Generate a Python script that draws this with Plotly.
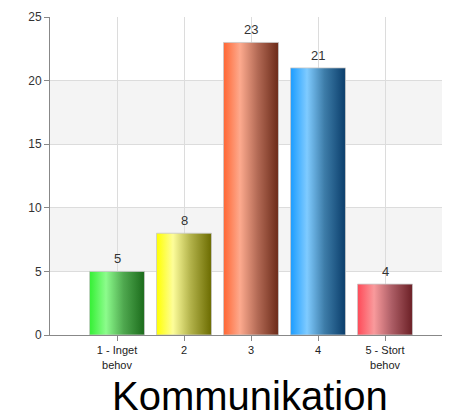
import plotly.graph_objects as go

categories = ["1 - Inget<br>behov", "2", "3", "4", "5 - Stort<br>behov"]
positions = [1, 2, 3, 4, 5]
values = [5, 8, 23, 21, 4]
title = "Kommunikation"
y_ticks = [0, 5, 10, 15, 20, 25]

gradients = [
    ["#33f033", "#8cfc8c", "#4fa84f", "#1b6b1b"],
    ["#ffff00", "#fdfd9a", "#b2b24a", "#6b6b00"],
    ["#ff6633", "#fdaa8e", "#b36a55", "#6b2a18"],
    ["#1a9cff", "#7fcbff", "#3d7ca8", "#0a3d6b"],
    ["#ff4a58", "#f99a9c", "#ad5e66", "#6b1f25"],
]

bar_w = 0.82

fig = go.Figure()
for pos, val, cols in zip(positions, values, gradients):
    x0, x1 = pos - bar_w / 2, pos + bar_w / 2
    fig.add_trace(go.Scatter(
        x=[x0, x1, x1, x0, x0], y=[0, 0, val, val, 0],
        mode="lines", fill="toself",
        line=dict(color="rgba(200,200,200,0.8)", width=1),
        fillgradient=dict(type="horizontal",
                          colorscale=[[0, cols[0]], [0.3, cols[1]], [0.62, cols[2]], [1, cols[3]]]),
        hoverinfo="skip", showlegend=False,
    ))

annotations = [
    dict(x=p, y=v, xref="x", yref="y", text=str(v), showarrow=False,
         yanchor="bottom", yshift=3,
         font=dict(family="Arial", size=13, color="#333333"))
    for p, v in zip(positions, values)
]

for lo, hi in [(5, 10), (15, 20)]:
    fig.add_shape(type="rect", xref="paper", x0=0, x1=1, yref="y", y0=lo, y1=hi,
                  fillcolor="#f4f4f4", line=dict(width=0), layer="below")

annotations.append(dict(text=title, xref="paper", yref="paper", x=0.5, y=0,
                        yshift=-61, showarrow=False, yanchor="middle",
                        font=dict(family="Arial", size=40, color="#000000")))

fig.update_layout(
    width=442, height=409,
    margin=dict(l=42, r=0, t=9, b=82),
    plot_bgcolor="white", paper_bgcolor="white",
    font=dict(family="Arial", color="#333333"),
    xaxis=dict(range=[0, 5.97], tickvals=positions, ticktext=categories,
               showgrid=True, gridcolor="#dcdcdc", zeroline=False,
               showline=True, linecolor="#888888", linewidth=1,
               ticks="outside", ticklen=5, tickcolor="#888888",
               tickfont=dict(family="Arial", size=11, color="#222222")),
    yaxis=dict(range=[0, 25], tickvals=y_ticks,
               showgrid=True, gridcolor="#dcdcdc", zeroline=False,
               showline=True, linecolor="#888888", linewidth=1,
               ticks="outside", ticklen=5, tickcolor="#888888",
               tickfont=dict(family="Arial", size=12, color="#333333")),
    annotations=annotations,
)

fig.write_html("out.html")
